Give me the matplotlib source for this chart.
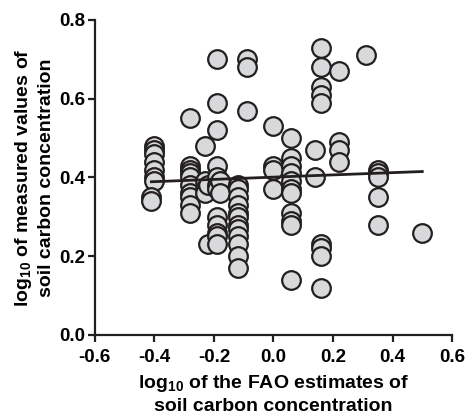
import numpy as np
import matplotlib
matplotlib.use("Agg")
import matplotlib.pyplot as plt

plt.rcParams['font.family'] = ['Liberation Sans', 'DejaVu Sans']
plt.rcParams['font.weight'] = 'bold'
plt.rcParams['mathtext.fontset'] = 'custom'
plt.rcParams['mathtext.bf'] = 'Liberation Sans:bold'
plt.rcParams['mathtext.rm'] = 'Liberation Sans:bold'
plt.rcParams['mathtext.default'] = 'bf'

# FAO estimate (x) columns and the measured values (y) in each column
col_x = [-0.40, -0.41, -0.28, -0.23, -0.22, -0.19, -0.18, -0.12, -0.09,
         0.0, 0.06, 0.14, 0.16, 0.22, 0.31, 0.35, 0.50]
col_y = [
    [0.48, 0.47, 0.46, 0.44, 0.42, 0.40, 0.39],
    [0.35, 0.34],
    [0.55, 0.43, 0.42, 0.41, 0.40, 0.38, 0.36, 0.35, 0.33, 0.31],
    [0.48, 0.39, 0.37, 0.36],
    [0.38, 0.23],
    [0.70, 0.59, 0.52, 0.43, 0.40, 0.38, 0.37, 0.30, 0.28, 0.26, 0.25, 0.23],
    [0.39, 0.36],
    [0.38, 0.37, 0.35, 0.33, 0.31, 0.30, 0.28, 0.27, 0.25, 0.23, 0.20, 0.17],
    [0.70, 0.68, 0.57],
    [0.53, 0.43, 0.42, 0.37],
    [0.50, 0.45, 0.43, 0.41, 0.39, 0.37, 0.36, 0.31, 0.29, 0.28, 0.14],
    [0.47, 0.40],
    [0.73, 0.68, 0.63, 0.61, 0.59, 0.23, 0.22, 0.20, 0.12],
    [0.67, 0.49, 0.47, 0.44],
    [0.71],
    [0.42, 0.41, 0.40, 0.35, 0.28],
    [0.26],
]

# regression line
line_x = [-0.41, 0.50]
line_y = [0.389, 0.415]

xs = np.concatenate([[cx] * len(cy) for cx, cy in zip(col_x, col_y)])
ys = np.concatenate(col_y)

fig = plt.figure(figsize=(4.67, 4.16), dpi=100)
ax = fig.add_axes([0.203, 0.195, 0.765, 0.757])

ax.scatter(xs, ys, s=180, facecolor='#d8d9db', edgecolor='#231f20',
           linewidth=1.6, zorder=3, clip_on=False)
ax.plot(line_x, line_y, color='#231f20', lw=2.0, zorder=4)

ax.set_xlim(-0.6, 0.6)
ax.set_ylim(0.0, 0.8)
ax.set_xticks(np.arange(-0.6, 0.61, 0.2))
ax.set_yticks(np.arange(0.0, 0.81, 0.2))
ax.set_xticklabels(['-0.6', '-0.4', '-0.2', '0.0', '0.2', '0.4', '0.6'])
ax.set_yticklabels(['0.0', '0.2', '0.4', '0.6', '0.8'])

for s in ['top', 'right']:
    ax.spines[s].set_visible(False)
for s in ['left', 'bottom']:
    ax.spines[s].set_linewidth(1.6)
    ax.spines[s].set_color('#231f20')
ax.tick_params(width=1.6, length=5, labelsize=13.5, color='#231f20')
ax.tick_params(axis='x', pad=5)
ax.tick_params(axis='y', pad=2)

ax.set_xlabel('log$_{10}$ of the FAO estimates of\nsoil carbon concentration',
              fontsize=14, fontweight='bold', linespacing=1.3, labelpad=5)
ax.set_ylabel('log$_{10}$ of measured values of\nsoil carbon concentration',
              fontsize=14, fontweight='bold', linespacing=1.3, labelpad=3)

fig.savefig('out.png', dpi=100)
